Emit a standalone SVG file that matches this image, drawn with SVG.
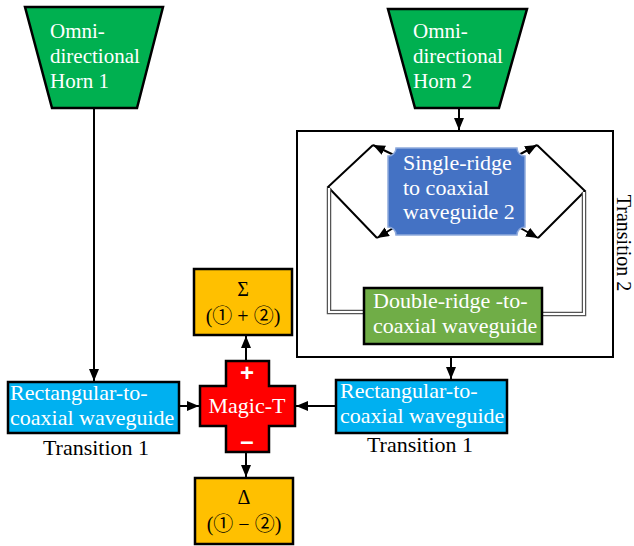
<svg xmlns="http://www.w3.org/2000/svg" width="634" height="546" viewBox="0 0 634 546">
<style>
text{font-family:"Liberation Serif","Times New Roman",serif;font-size:22px}
.w{fill:#ffffff}
.k{fill:#000000}
.c{text-anchor:middle}
.h{font-size:21px}
.cj{font-family:"Liberation Serif","Noto Sans CJK JP",serif}
.edge{stroke:#000;stroke-width:2;fill:none}
.box{stroke:#000;stroke-width:2.5}
.dbl1{stroke:#555;stroke-width:4.5;fill:none}
.dbl2{stroke:#fff;stroke-width:2;fill:none}
</style>
<defs>
<marker id="ah" viewBox="0 0 12 10" markerWidth="12" markerHeight="10" refX="12" refY="5" orient="auto" markerUnits="userSpaceOnUse">
<path d="M0,0 L12,5 L0,10 z" fill="#000"/>
</marker>
</defs>

<g id="transition2-frame">
<rect x="297" y="131" width="316" height="226" fill="none" stroke="#000" stroke-width="2"/>
<text class="k c" transform="translate(617,243) rotate(90)" style="font-size:20px">Transition 2</text>
</g>

<g id="connectors">
<line class="edge" x1="94" y1="108" x2="94" y2="381" marker-end="url(#ah)"/>
<line class="edge" x1="459" y1="108" x2="459" y2="130" marker-end="url(#ah)"/>
<line class="edge" x1="451" y1="357" x2="451" y2="379" marker-end="url(#ah)"/>
<line class="edge" x1="179" y1="406" x2="199" y2="406" marker-end="url(#ah)"/>
<line class="edge" x1="336" y1="406" x2="296" y2="406" marker-end="url(#ah)"/>
<line class="edge" x1="246" y1="361" x2="246" y2="336" marker-end="url(#ah)"/>
<line class="edge" x1="246" y1="452" x2="246" y2="477" marker-end="url(#ah)"/>
<polyline class="edge" points="373,145 328,187 377,238"/>
<polyline class="edge" points="537,145 585,191 538,238"/>
<line class="edge" x1="398" y1="157" x2="373" y2="145" marker-end="url(#ah)"/>
<line class="edge" x1="398" y1="225" x2="377" y2="238" marker-end="url(#ah)"/>
<line class="edge" x1="515" y1="157" x2="537" y2="145" marker-end="url(#ah)"/>
<line class="edge" x1="515" y1="225" x2="538" y2="238" marker-end="url(#ah)"/>
<polyline class="dbl1" points="329,188 329,312 364,312"/>
<polyline class="dbl2" points="329,188 329,312 364,312"/>
<polyline class="dbl1" points="584,192 584,314 542,314"/>
<polyline class="dbl2" points="584,192 584,314 542,314"/>
</g>

<g id="horn1">
<polygon class="box" points="25,7 163,7 137,108 52,108" fill="#00B050"/>
<text class="w h" x="50" y="38">Omni-</text>
<text class="w h" x="50" y="63">directional</text>
<text class="w h" x="50" y="88">Horn 1</text>
</g>

<g id="horn2">
<polygon class="box" points="388,9 527,9 499,108 415,108" fill="#00B050"/>
<text class="w h" x="413" y="38">Omni-</text>
<text class="w h" x="413" y="63">directional</text>
<text class="w h" x="413" y="88">Horn 2</text>
</g>

<g id="single-ridge">
<path d="M396,148 H517 A8,8 0 0 0 525,156 V227 A8,8 0 0 0 517,235 H396 A8,8 0 0 0 388,227 V156 A8,8 0 0 0 396,148 Z" fill="#4472C4" stroke="#8FAADC" stroke-width="1.5"/>
<text class="w" x="403" y="170">Single-ridge</text>
<text class="w" x="403" y="195">to coaxial</text>
<text class="w" x="403" y="219">waveguide 2</text>
</g>

<g id="double-ridge">
<rect class="box" x="364" y="288" width="178" height="56" fill="#70AD47"/>
<text class="w" x="373" y="308">Double-ridge -to-</text>
<text class="w" x="373" y="333">coaxial waveguide</text>
</g>

<g id="rect1">
<rect class="box" x="8" y="382" width="171" height="51" fill="#00B0F0"/>
<text class="w" x="10" y="400">Rectangular-to-</text>
<text class="w" x="10" y="425">coaxial waveguide</text>
<text class="k c" x="96" y="455">Transition 1</text>
</g>

<g id="rect2">
<rect class="box" x="336" y="380" width="171" height="53" fill="#00B0F0"/>
<text class="w" x="340" y="398">Rectangular-to-</text>
<text class="w" x="340" y="423">coaxial waveguide</text>
<text class="k c" x="420" y="452">Transition 1</text>
</g>

<g id="magic-t">
<path class="box" d="M226,361 H269 V386 H295 V426 H269 V452 H226 V426 H200 V386 H226 Z" fill="#FF0000"/>
<text class="w c" x="247" y="381" style="font-size:24px;font-weight:bold;font-family:'Liberation Sans',sans-serif">+</text>
<text class="w c" x="247" y="413">Magic-T</text>
<text class="w c" x="247" y="449" style="font-size:24px;font-weight:bold;font-family:'Liberation Sans',sans-serif">–</text>
</g>

<g id="sum">
<rect class="box" x="194" y="269" width="98" height="66" fill="#FFC000"/>
<text class="k c" x="243" y="296" style="font-size:20px">Σ</text>
<text class="k c cj" x="243" y="323" style="font-size:20px">(① + ②)</text>
</g>

<g id="diff">
<rect class="box" x="195" y="478" width="98" height="66" fill="#FFC000"/>
<text class="k c" x="244" y="504" style="font-size:20px">Δ</text>
<text class="k c cj" x="244" y="531" style="font-size:20px">(① − ②)</text>
</g>
</svg>
